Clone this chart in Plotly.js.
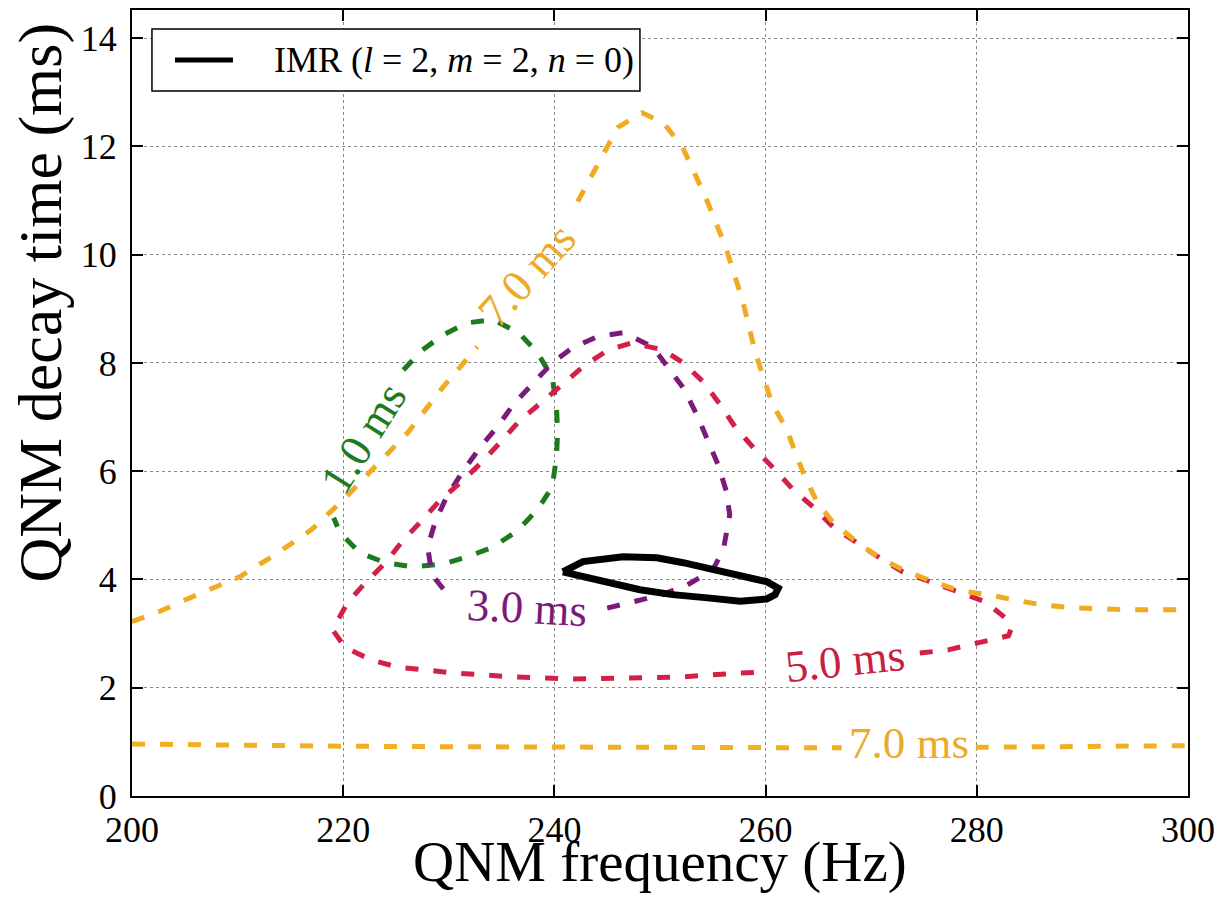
<!DOCTYPE html>
<html>
<head>
<meta charset="utf-8">
<script src="https://cdn.plot.ly/plotly-3.0.1.min.js"></script>
<style>html,body{margin:0;padding:0;background:#fff;}#chart{width:1222px;height:903px;}</style>
</head>
<body>
<div id="chart"></div>
<script>
// 1.0 ms contour (green), open at the label
var greenX = [225.7,227.5,229.5,231.7,234.2,236.6,238.4,239.8,240.2,240.3,240.2,239.8,238.4,236.5,234.2,231.8,229.5,226.6,224.0,221.6,219.7,219.1];
var greenY = [7.87,8.24,8.52,8.74,8.80,8.56,8.19,7.73,7.19,6.71,6.27,5.71,5.29,4.90,4.60,4.42,4.29,4.23,4.31,4.49,4.86,5.14];

// 3.0 ms contour (purple)
var purpleX = [245.0,247.4,250.2,252.6,255.0,256.0,256.4,256.6,256.3,255.5,254.5,253.5,252.2,250.7,249.3,246.5,244.0,241.7,239.8,238.0,236.1,234.6,233.0,231.3,229.8,228.7,228.0,228.4,229.9];
var purpleY = [3.47,3.59,3.72,3.90,4.18,4.55,4.92,5.19,5.62,6.12,6.58,7.04,7.54,7.93,8.30,8.56,8.48,8.28,8.00,7.63,7.23,6.82,6.45,5.99,5.53,5.06,4.60,4.09,3.72];

// 5.0 ms contour (crimson)
var crimsonX = [274.6,277.3,280.1,283.0,283.3,282.7,280.8,278.2,275.6,273.0,270.8,268.7,266.4,264.5,262.6,260.9,259.0,257.1,255.7,254.1,252.2,250.3,247.3,245.0,242.7,240.5,238.6,236.6,234.8,233.1,231.1,229.2,227.5,225.7,224.0,222.1,220.4,219.0,220.2,222.7,225.2,227.9,230.6,236.1,241.5,246.7,252.1,257.4,260.1];
var crimsonY = [2.64,2.70,2.83,2.96,3.11,3.29,3.59,3.77,3.96,4.14,4.40,4.68,4.97,5.34,5.66,6.03,6.40,6.82,7.23,7.65,8.00,8.24,8.37,8.23,7.93,7.56,7.23,6.91,6.52,6.16,5.79,5.47,5.10,4.73,4.31,3.94,3.57,3.07,2.74,2.51,2.38,2.33,2.27,2.20,2.16,2.18,2.20,2.27,2.29];

// 7.0 ms contour (orange), upper branch, open at the label
var orangeUpX = [200.0,202.5,205.0,207.5,210.2,213.5,217.0,220.0,222.7,226.1,229.4,232.7,null,242.2,244.8,246.0,248.3,250.3,252.1,253.1,254.3,256.2,257.8,259.0,260.6,262.0,263.7,264.9,266.4,268.7,270.8,273.0,275.8,278.4,281.1,283.6,286.2,289.0,294.2,300.0];
var orangeUpY = [3.22,3.40,3.62,3.83,4.05,4.45,4.92,5.47,6.01,6.71,7.54,8.30,null,10.98,11.90,12.35,12.62,12.44,12.00,11.57,11.07,10.15,9.17,8.21,7.26,6.77,5.90,5.42,5.05,4.68,4.40,4.18,3.96,3.79,3.72,3.62,3.53,3.48,3.44,3.44];

// 7.0 ms contour (orange), lower branch
var orangeLoX = [200,210,220,230,240,250,260,267.2,null,279.9,290,300];
var orangeLoY = [0.96,0.93,0.92,0.91,0.90,0.89,0.89,0.89,null,0.90,0.92,0.93];

// IMR (l=2, m=2, n=0) contour (black)
var imrX = [240.8,242.7,246.5,249.7,252.2,255.0,257.6,260.1,261.2,260.9,260.1,257.6,254.5,251.2,248.1,245.0,242.4,240.8];
var imrY = [4.14,4.33,4.42,4.40,4.31,4.18,4.05,3.96,3.84,3.72,3.64,3.60,3.66,3.72,3.81,3.94,4.05,4.14];

// contour labels
var labelText = ['1.0 ms','3.0 ms','5.0 ms','7.0 ms','7.0 ms'];
var labelX = [221.9,237.4,267.5,237.4,273.6];
var labelY = [6.62,3.47,2.50,9.62,0.98];
var labelAngle = [-58,3,-6,-48,0];
var labelColor = ['#1e7a1e','#7a1a7a','#c8203f','#eda92a','#eda92a'];

var legendName = 'IMR (<i>l</i> = 2, <i>m</i> = 2, <i>n</i> = 0)';
var xTitle = 'QNM frequency (Hz)';
var yTitle = 'QNM decay time (ms)';

var FONT = '"Liberation Serif","Times New Roman","DejaVu Serif",serif';
var dash = '13px,15px';

function contour(x, y, color) {
  return {x: x, y: y, type: 'scatter', mode: 'lines', showlegend: false, hoverinfo: 'skip',
          line: {color: color, width: 5, dash: dash}};
}

var traces = [
  contour(greenX, greenY, '#1e7a1e'),
  contour(purpleX, purpleY, '#7a1a7a'),
  contour(crimsonX, crimsonY, '#d42048'),
  contour(orangeUpX, orangeUpY, '#f0ab22'),
  contour(orangeLoX, orangeLoY, '#f0b022'),
  {x: imrX, y: imrY, type: 'scatter', mode: 'lines', name: legendName, showlegend: false,
   line: {color: '#000000', width: 7}, hoverinfo: 'skip'}
];

var annotations = labelText.map(function (t, i) {
  return {x: labelX[i], y: labelY[i], xref: 'x', yref: 'y', text: t, showarrow: false,
          textangle: labelAngle[i], font: {family: FONT, size: 45, color: labelColor[i]}};
});
// y-axis title (placed as in the reference, above the axis centre)
annotations.push({xref: 'paper', yref: 'paper', x: -0.087, y: 0.628, text: yTitle,
  showarrow: false, textangle: -90, xanchor: 'center', yanchor: 'middle',
  font: {family: FONT, size: 62, color: '#000'}});
// x-axis title
annotations.push({xref: 'paper', yref: 'paper', x: 0.5, y: -0.041, text: xTitle,
  showarrow: false, xanchor: 'center', yanchor: 'top',
  font: {family: FONT, size: 57, color: '#000'}});
// legend text
annotations.push({xref: 'paper', yref: 'paper', x: 0.1326, y: 0.9364, text: legendName,
  showarrow: false, xanchor: 'left', yanchor: 'middle',
  font: {family: FONT, size: 36, color: '#000'}});

var shapes = [
  {type: 'rect', xref: 'paper', yref: 'paper', x0: 0.0189, x1: 0.481, y0: 0.897, y1: 0.9758,
   line: {color: '#000', width: 1.5}, fillcolor: '#fff', layer: 'above'},
  {type: 'line', xref: 'paper', yref: 'paper', x0: 0.0407, x1: 0.0956, y0: 0.9364, y1: 0.9364,
   line: {color: '#000', width: 5}, layer: 'above'}
];

var axisCommon = {
  showline: true, linecolor: '#000', linewidth: 2, mirror: 'allticks',
  ticks: 'inside', ticklen: 11, tickwidth: 2, tickcolor: '#000',
  showgrid: true, gridcolor: '#8a8a8a', gridwidth: 1, griddash: 'dot',
  zeroline: false, tickfont: {family: FONT, size: 36, color: '#000'}
};

var layout = {
  width: 1222, height: 903,
  margin: {l: 132, r: 34, t: 10, b: 107},
  paper_bgcolor: '#fff', plot_bgcolor: '#fff',
  font: {family: FONT, color: '#000'},
  xaxis: Object.assign({}, axisCommon, {
    range: [200, 300], tickvals: [200,220,240,260,280,300], ticklabelstandoff: 1
  }),
  yaxis: Object.assign({}, axisCommon, {
    range: [0, 14.52], tickvals: [0,2,4,6,8,10,12,14], ticklabelstandoff: 6
  }),
  showlegend: false,
  shapes: shapes,
  annotations: annotations
};

Plotly.newPlot('chart', traces, layout, {displayModeBar: false, staticPlot: true});
</script>
</body>
</html>
